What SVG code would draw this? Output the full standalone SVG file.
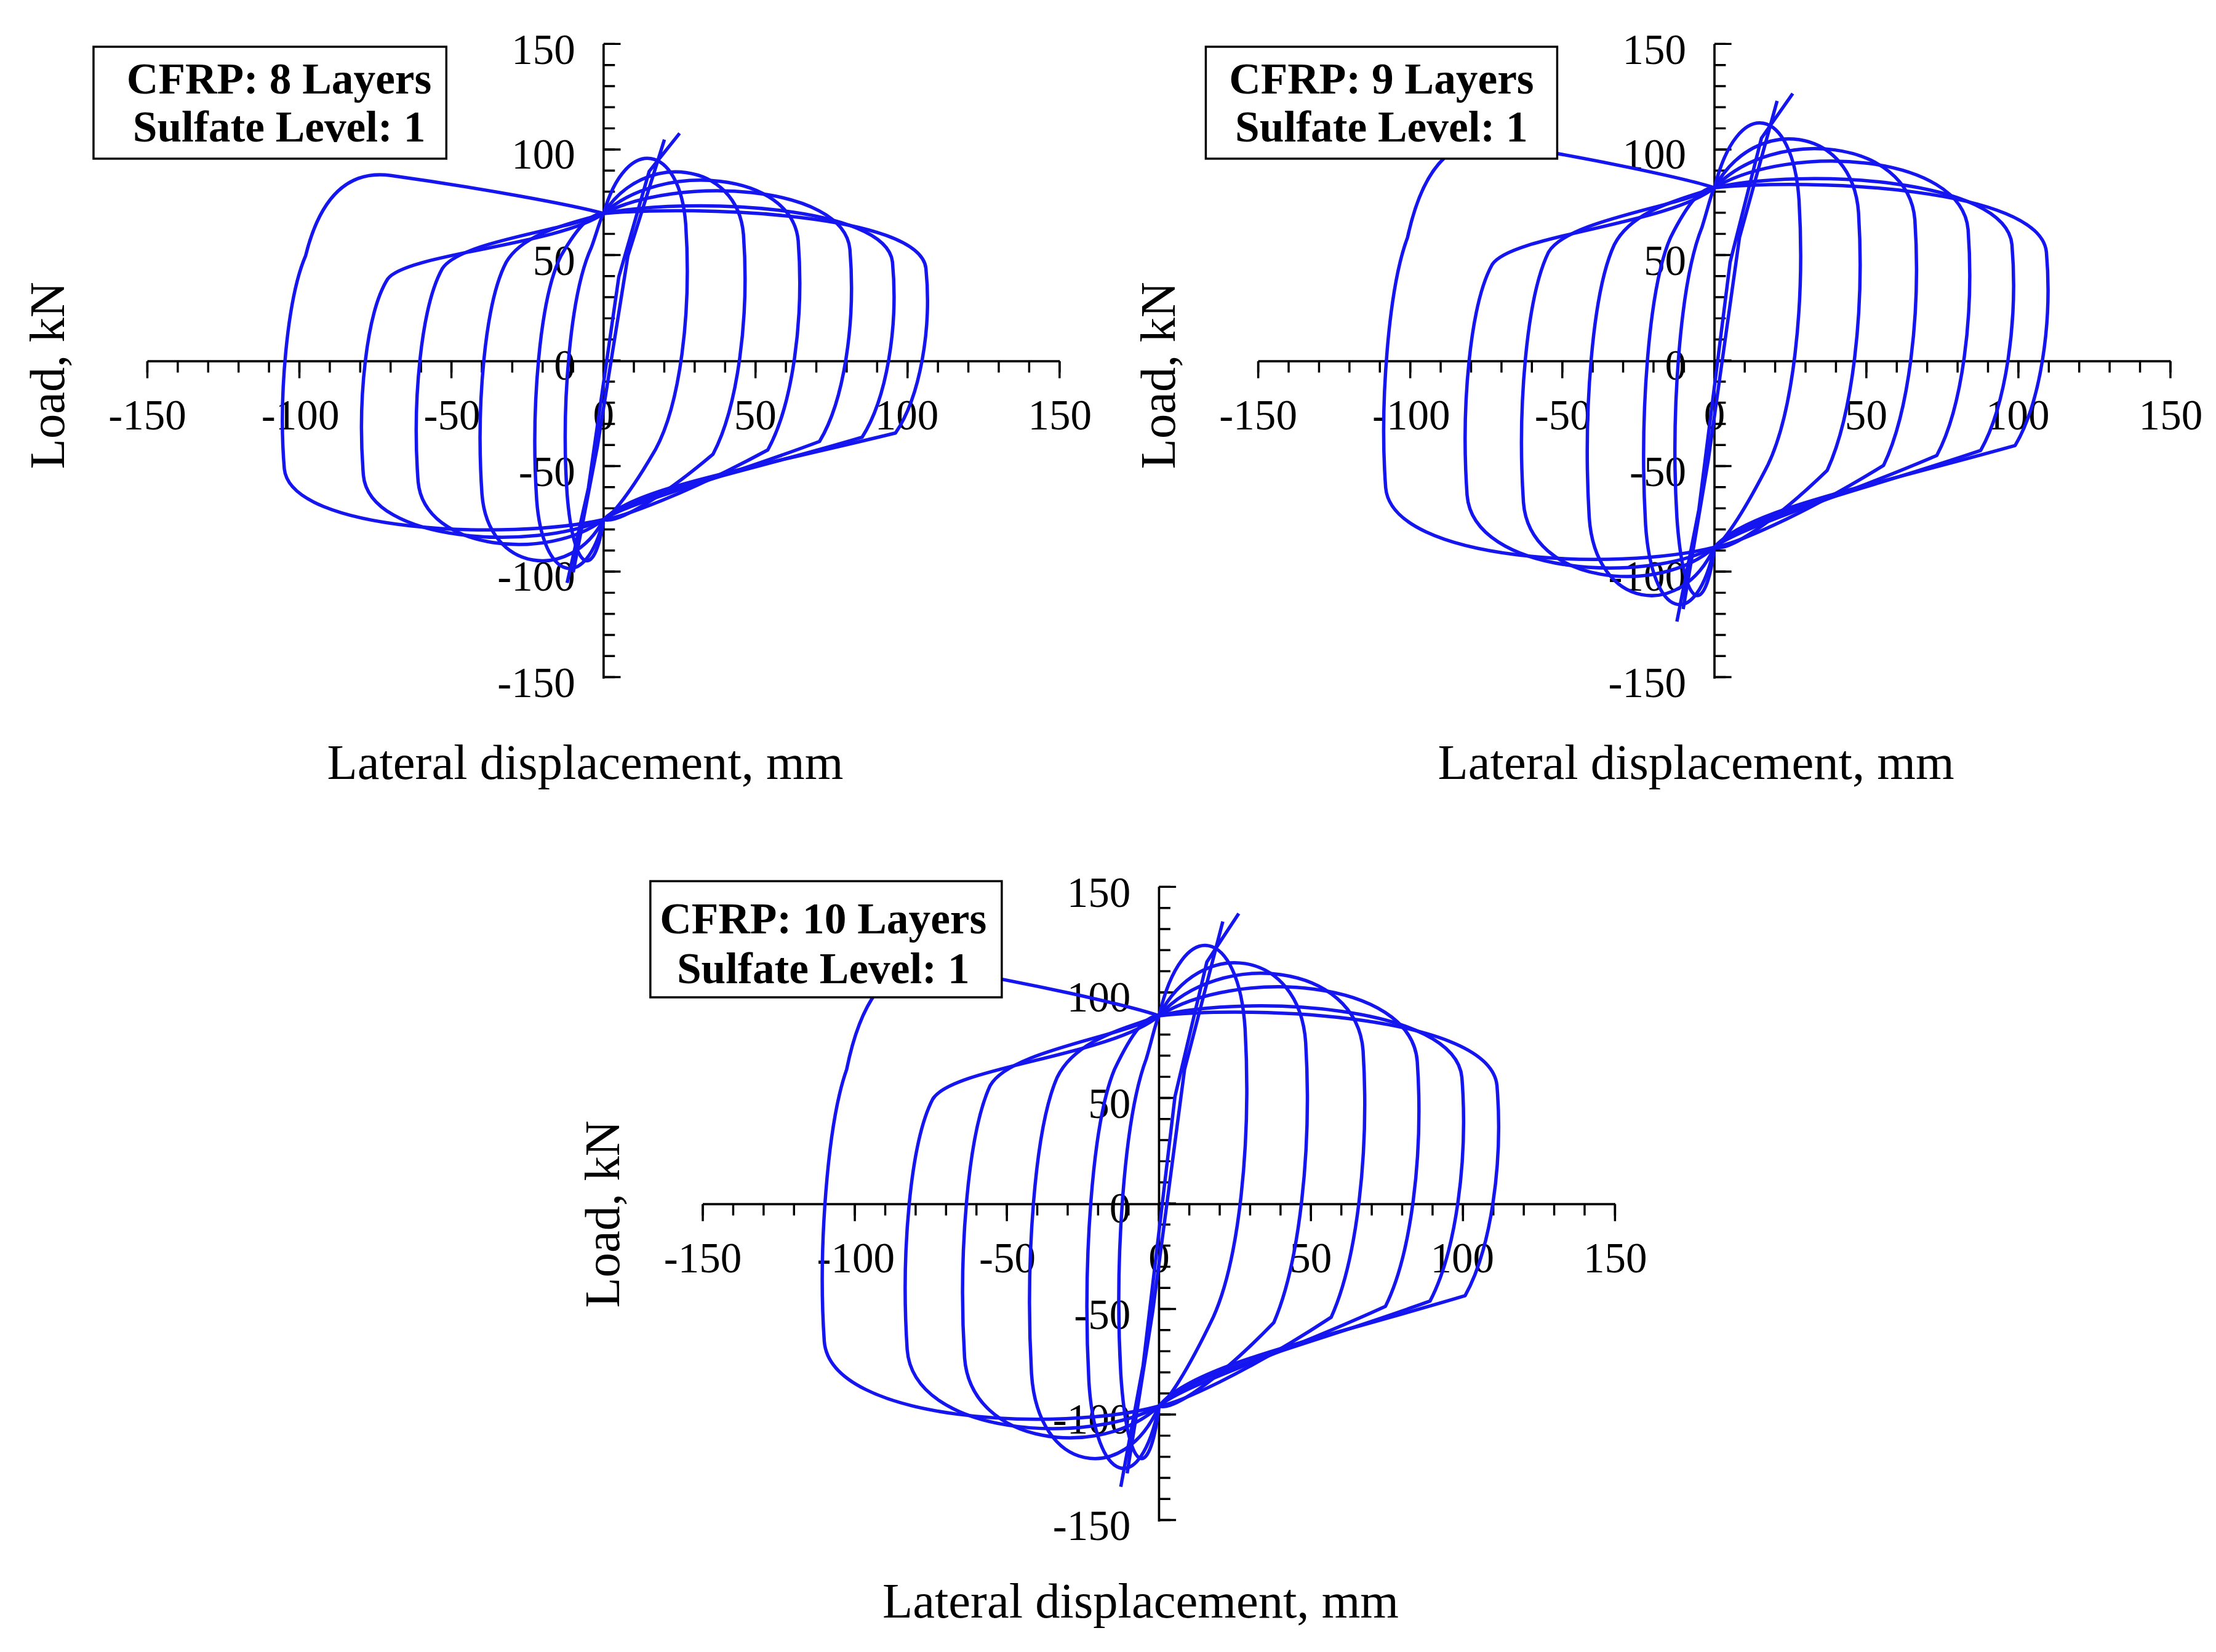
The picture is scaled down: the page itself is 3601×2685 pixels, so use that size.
<svg xmlns="http://www.w3.org/2000/svg" xmlns:xlink="http://www.w3.org/1999/xlink" width="3601" height="2685" viewBox="0 0 3601 2685">
<style>
.ax{stroke:#000;stroke-width:1.6;fill:none}
.tk{font-family:"Liberation Serif",serif;font-size:30px;fill:#000}
.tt{font-family:"Liberation Serif",serif;font-size:35px;fill:#000;text-anchor:middle}
.bx{font-family:"Liberation Serif",serif;font-size:31px;font-weight:bold;fill:#000;text-anchor:middle}
.cv{stroke:#1515f0;stroke-width:5.5;fill:none;vector-effect:non-scaling-stroke;stroke-linejoin:round}
</style>
<defs>
<g id="axes">
<line class="ax" x1="-322" y1="0" x2="322" y2="0"/>
<line class="ax" x1="0" y1="-224" x2="0" y2="224"/>
<line x1="-322.75" y1="4" x2="323" y2="4" stroke="#000" stroke-width="8" stroke-dasharray="1.5 19.96"/>
<line x1="-322.75" y1="6" x2="323" y2="6" stroke="#000" stroke-width="12" stroke-dasharray="1.5 105.8"/>
<line x1="4" y1="-224.75" x2="4" y2="225" stroke="#000" stroke-width="8" stroke-dasharray="1.5 13.4"/>
<line x1="6" y1="-224.75" x2="6" y2="225" stroke="#000" stroke-width="12" stroke-dasharray="1.5 73"/>
<g class="tk" text-anchor="middle">
<text x="-322" y="48">-150</text><text x="-214" y="48">-100</text><text x="-107" y="48">-50</text><text x="0" y="48">0</text><text x="107" y="48">50</text><text x="214" y="48">100</text><text x="322" y="48">150</text>
</g>
<g class="tk" text-anchor="end">
<text x="-20" y="-210">150</text><text x="-20" y="-136">100</text><text x="-20" y="-61">50</text><text x="-20" y="13">0</text><text x="-20" y="88">-50</text><text x="-20" y="162">-100</text><text x="-20" y="237">-150</text>
</g>
</g>
<g id="loops">
<path class="cv" d="M-12 -105 L-5 -60 L5 40 L15 90 L25 108 M-10 -100 L-2 -40 L8 50 L20 105"/>
<path class="cv" d="M0 70 C7.5 108 25 103 27 65 C29 22 25 -21 17 -42 C8.5 -63 2.5 -73.5 0 -75 C-3 -105 -10 -100 -12 -63 C-14 -21 -11 32 -4 54 C-2 62 -1 68 0 70Z"/>
<path class="cv" d="M0 70 C13 100 44 95 46 60 C48 20 44 -22 36 -44 C18 -66 4 -77 0 -75 C-6 -110 -20 -104 -22 -66 C-24 -22 -21 30 -14 50 C-8 65 -4 70 0 70Z"/>
<path class="cv" d="M0 70 C19 95 62 90 64 57 C66 19 62 -21 54 -42 C27 -63 6 -74 0 -75 C-11 -105 -38 -100 -40 -63 C-42 -21 -39 28 -32 47 C-26 62 -8 66 0 70Z"/>
<path class="cv" d="M0 70 C24 88 79 84 81 53 C83 18 79 -19 71 -38 C36 -57 8 -67 0 -75 C-18 -95 -59 -90 -61 -57 C-63 -19 -60 26 -53 44 C-47 57 -12 62 0 70Z"/>
<path class="cv" d="M0 70 C28 78 93 74 95 47 C97 16 93 -18 85 -36 C43 -54 9 -63 0 -75 C-23 -90 -77 -86 -79 -54 C-81 -18 -78 23 -71 39 C-65 51 -15 55 0 70Z"/>
<path class="cv" d="M0 70 C31 74 104 70 106 44 C108 15 104 -17 96 -34 C48 -51 10 -60 0 -75 C-31 -85 -103 -81 -105 -51 C-107 -17 -104 30 -98 50 C-92 85 -80 90 -70 88 C-40 82 -10 74 0 70Z"/>
</g>
</defs>
<g transform="scale(2.3025)">
<g id="plot1">
<use xlink:href="#axes" transform="translate(426,255)"/>
<use xlink:href="#loops" transform="translate(426,255) scale(2.146,-1.49)"/>
<g id="box1"><rect x="66" y="33" width="249" height="79" fill="#fff" stroke="#000" stroke-width="1.5"/>
<text class="bx" x="197" y="66">CFRP: 8 Layers</text><text class="bx" x="197" y="100">Sulfate Level: 1</text></g>
<text class="tt" transform="translate(45,265) rotate(-90)">Load, kN</text>
<text class="tt" x="413" y="550">Lateral displacement, mm</text>
</g>
<g id="plot2">
<use xlink:href="#axes" transform="translate(1210,255)"/>
<use xlink:href="#loops" transform="translate(1210,255) scale(2.21,-1.75)"/>
<g id="box2"><rect x="851" y="33" width="248" height="79" fill="#fff" stroke="#000" stroke-width="1.5"/>
<text class="bx" x="975" y="66">CFRP: 9 Layers</text><text class="bx" x="975" y="100">Sulfate Level: 1</text></g>
<text class="tt" transform="translate(829,265) rotate(-90)">Load, kN</text>
<text class="tt" x="1197" y="550">Lateral displacement, mm</text>
</g>
<g id="plot3">
<use xlink:href="#axes" transform="translate(818,850)"/>
<use xlink:href="#loops" transform="translate(818,850) scale(2.25,-1.9)"/>
<g id="box3"><rect x="459" y="622" width="248" height="82" fill="#fff" stroke="#000" stroke-width="1.5"/>
<text class="bx" x="581" y="659">CFRP: 10 Layers</text><text class="bx" x="581" y="694">Sulfate Level: 1</text></g>
<text class="tt" transform="translate(437,857) rotate(-90)">Load, kN</text>
<text class="tt" x="805" y="1142">Lateral displacement, mm</text>
</g>
</g>
</svg>
